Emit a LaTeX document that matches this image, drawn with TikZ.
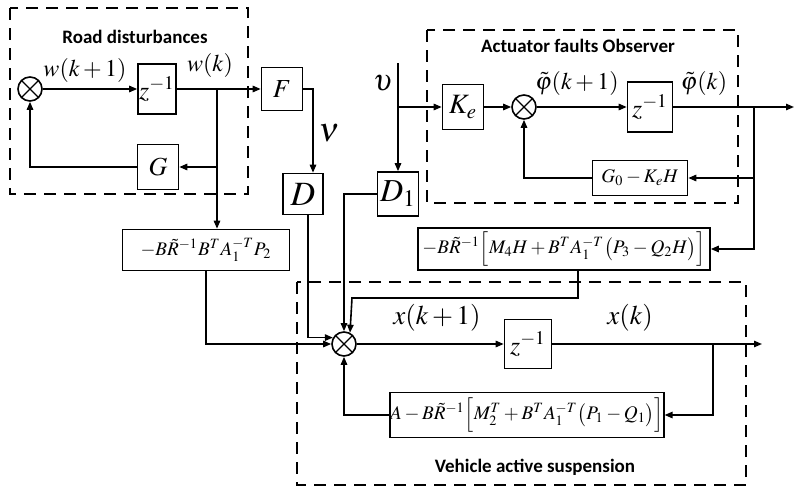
\documentclass[tikz,border=0pt]{standalone}
\usepackage[no-math]{fontspec}
\setmainfont{Liberation Serif}
\newfontfamily\titlefont{Carlito}
\usepackage{mathptmx}
\usepackage{tikz}
\usetikzlibrary{positioning, arrows.meta, calc}

\tikzset{
  blk/.style={draw, line width=0.8pt, inner sep=0pt, font=\fontsize{13}{15}\selectfont},
  sumnode/.style={draw, circle, line width=0.8pt, minimum size=12pt, inner sep=0pt,
    path picture={\draw[line width=0.7pt]
      (path picture bounding box.south west) -- (path picture bounding box.north east)
      (path picture bounding box.north west) -- (path picture bounding box.south east);}},
  arr/.style={line width=0.8pt, -{Triangle[length=4pt,width=3.2pt]}},
  grp/.style={line width=0.8pt, dash pattern=on 6pt off 4pt},
  grptitle/.style={font=\titlefont\bfseries\fontsize{9.5}{11}\selectfont},
  sig/.style={font=\fontsize{12}{14}\selectfont},
  gain/.style={blk, font=\fontsize{9.6}{11}\selectfont}
}

\begin{document}
\begin{tikzpicture}[x=0.5pt, y=-0.5pt]
  \useasboundingbox (0,0) rectangle (794,488);

  % dashed groups
  \draw[grp] (10,8) rectangle (248,194);
  \draw[grp] (427,30) rectangle (738,203);
  \draw[grp] (297,282) rectangle (746,485);
  \node[grptitle] (ttlroad) at (135,37) {Road disturbances};
  \node[grptitle] (ttlobs) at (578,46) {Actuator faults Observer};
  \node[grptitle] (ttlveh) at (535,467) {Vehicle active suspension};

  % road disturbance model
  \node[sumnode] (sw) at (30,89) {};
  \node[blk, minimum width=19pt, minimum height=25pt] (zw) at (157,89) {$z^{-1}$};
  \node[blk, minimum width=20.5pt, minimum height=22.5pt] (G) at (158,167) {$G$};
  \node[blk, minimum width=20.5pt, minimum height=21.5pt] (F) at (282,89) {$F$};
  \node[blk, minimum width=20pt, minimum height=20.5pt, font=\fontsize{17}{19}\selectfont] (D) at (303,194) {$D$};
  \node[gain, minimum width=83.5pt, minimum height=20.5pt] (P2) at (206,250)
    {$-B\tilde{R}^{-1}B^{T}A_1^{-T}P_2$};

  % observer
  \node[blk, minimum width=20.5pt, minimum height=22.5pt, font=\fontsize{14}{16}\selectfont] (Ke) at (463,107) {$K_e$};
  \node[blk, minimum width=20.5pt, minimum height=22pt, font=\fontsize{16}{18}\selectfont] (D1) at (398,194) {$D_1$};
  \node[sumnode] (sf) at (524,107) {};
  \node[blk, minimum width=22.5pt, minimum height=25pt] (zf) at (650,107) {$z^{-1}$};
  \node[gain, minimum width=47.5pt, minimum height=17.5pt] (G0) at (640,178) {$G_0-K_eH$};
  \node[gain, minimum width=146pt, minimum height=21pt] (M4) at (564,249)
    {$-B\tilde{R}^{-1}\Bigl[M_4H+B^{T}A_1^{-T}\bigl(P_3-Q_2H\bigr)\Bigr]$};

  % vehicle
  \node[sumnode] (sx) at (344,344) {};
  \node[blk, minimum width=23.5pt, minimum height=24.5pt] (zx) at (528,344) {$z^{-1}$};
  \node[gain, minimum width=136.5pt, minimum height=22.5pt] (A) at (527,415)
    {$A-B\tilde{R}^{-1}\Bigl[M_2^{T}+B^{T}A_1^{-T}\bigl(P_1-Q_1\bigr)\Bigr]$};

  % signal labels
  \node[sig] (lw1) at (85,70) {$w(k+1)$};
  \node[sig] (lw) at (210,65) {$w(k)$};
  \node[sig, font=\fontsize{17}{19}\selectfont] (lnu) at (329,133) {$\nu$};
  \node[sig, font=\fontsize{15}{17}\selectfont] (lups) at (383,83) {$\upsilon$};
  \node[sig] (lf1) at (577,83) {$\tilde{\varphi}(k+1)$};
  \node[sig] (lf) at (704,83) {$\tilde{\varphi}(k)$};
  \node[sig, font=\fontsize{13.5}{15}\selectfont] (lx1) at (437,318) {$x(k+1)$};
  \node[sig, font=\fontsize{13.5}{15}\selectfont] (lx) at (630,318) {$x(k)$};

  % branch points and free ends
  \coordinate (bw) at (217,89);
  \coordinate (ups) at (398,63);
  \coordinate (bu) at (398,107);
  \coordinate (bf) at (754,107);
  \coordinate (outf) at (794,107);
  \coordinate (bx) at (713,344);
  \coordinate (outx) at (762,344);
  \coordinate (m4c) at (352,298);

  % road disturbance loop
  \draw[arr] (sw) -- (zw);
  \draw[arr] (zw) -- (F);
  \draw[arr] (bw) |- (G);
  \draw[arr] (G) -| (sw);
  \draw[arr] (bw) -- (bw |- P2.north);
  \draw[arr] (F.east) -| ([xshift=5pt]D.north);

  % observer loop
  \draw[arr] (ups) -- (D1);
  \draw[arr] (bu) -- (Ke);
  \draw[arr] (Ke) -- (sf);
  \draw[arr] (sf) -- (zf);
  \draw[arr] (zf) -- (outf);
  \draw[arr] (bf) |- (G0);
  \draw[arr] (G0) -| (sf);
  \draw[arr] (bf) |- (M4);

  % into the vehicle sum
  \draw[arr] ([xshift=2.5pt]D.south) |- (sx.150);
  \draw[arr] (D1) -| (sx);
  \draw[arr] (P2) |- (sx);
  \draw[arr] ([xshift=7pt]M4.south) |- (m4c) -- (sx.62);

  % vehicle loop
  \draw[arr] (sx) -- (zx);
  \draw[arr] (zx) -- (outx);
  \draw[arr] (bx) |- (A);
  \draw[arr] (A) -| (sx);
\end{tikzpicture}
\end{document}
